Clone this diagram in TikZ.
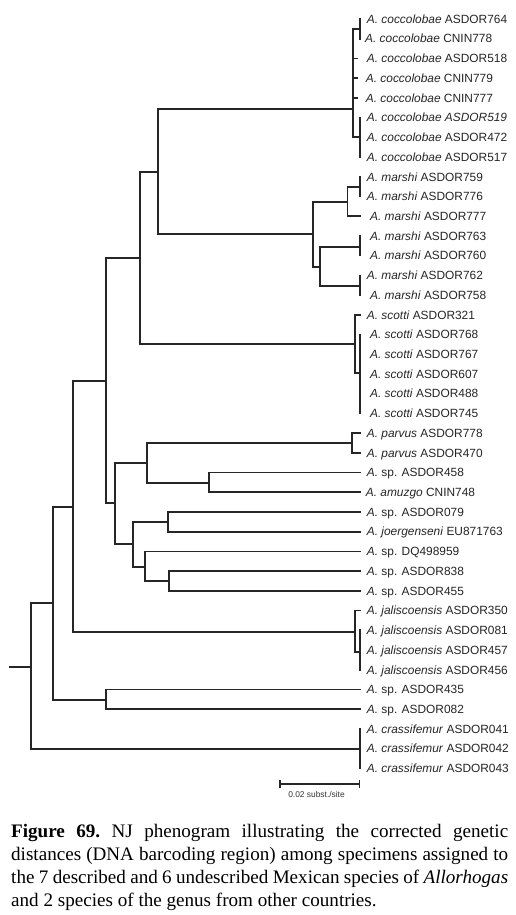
\documentclass[tikz,border=0pt]{standalone}
\usepackage{fontspec}
\setmainfont{Liberation Serif}
\newfontfamily\labfam{Liberation Sans}
\newcommand\labfont{\labfam\fontsize{11.9bp}{14bp}\selectfont}
\newcommand\capfont{\fontsize{19.1bp}{22.8bp}\selectfont\frenchspacing}
\begin{document}
\begin{tikzpicture}[x=1bp,y=-1bp,
  br/.style={draw=black!85,line width=1.7bp,line cap=rect},
  lab/.style={font=\labfont,anchor=base west,inner sep=0pt,text=black!85},
  capline/.style={font=\capfont,anchor=base west,inner sep=0pt,text=black}]
\useasboundingbox (0,0) rectangle (516,915);
\fill[white] (0,0) rectangle (516,915);
% tips
\foreach \i in {0,...,38} \coordinate (t\i) at (360,{19+19.72*\i});
\foreach \i in {2,3,4} \coordinate (t\i) at (357,{19+19.72*\i});
% internal nodes
\coordinate (root0) at (10,666.7);
\coordinate (nA) at (31,666.7);
\coordinate (nB) at (53,602.7);
\coordinate (nCr) at (360,749);
\coordinate (nC) at (72.7,506.7);
\coordinate (n435) at (106,700);
\coordinate (nD) at (106,381);
\coordinate (nJal) at (355,631.7);
\coordinate (nJalb) at (360,651.7);
\coordinate (nE) at (140,258.3);
\coordinate (nF) at (115,503.3);
\coordinate (nG) at (157.7,171.7);
\coordinate (nSc) at (355,344.3);
\coordinate (nScb) at (360,373.3);
\coordinate (nCo) at (353.3,109);
\coordinate (nCoa) at (360,29);
\coordinate (nCob) at (360,137);
\coordinate (nMa) at (313.3,234);
\coordinate (nMa1) at (347.5,202.3);
\coordinate (nMa1a) at (360,186.7);
\coordinate (nMa2) at (320,266.7);
\coordinate (nMa2a) at (360,246.7);
\coordinate (nMa2b) at (360,286);
\coordinate (nH) at (147.3,463.3);
\coordinate (nI) at (133.3,544.3);
\coordinate (nPa) at (352.3,443.3);
\coordinate (n458) at (209,483.3);
\coordinate (n079) at (168.3,522);
\coordinate (nJ) at (145,567.3);
\coordinate (n838) at (169.3,580.7);
% branches
\draw[br] (root0) -- (nA);
\foreach \p/\c in {nA/nB,nA/nCr,nB/nC,nB/n435,nC/nD,nC/nJal,nD/nE,nD/nF,
  nE/nG,nE/nSc,nG/nCo,nG/nMa,
  nCo/nCoa,nCo/t2,nCo/t3,nCo/t4,nCo/nCob,nCoa/t0,nCoa/t1,nCob/t5,nCob/t6,nCob/t7,
  nMa/nMa1,nMa/nMa2,nMa1/nMa1a,nMa1/t10,nMa1a/t8,nMa1a/t9,
  nMa2/nMa2a,nMa2/nMa2b,nMa2a/t11,nMa2a/t12,nMa2b/t13,nMa2b/t14,
  nSc/t15,nSc/nScb,nScb/t16,nScb/t17,nScb/t18,nScb/t19,nScb/t20,
  nF/nH,nF/nI,nH/nPa,nH/n458,nPa/t21,nPa/t22,n458/t23,n458/t24,
  nI/n079,nI/nJ,n079/t25,n079/t26,nJ/t27,nJ/n838,n838/t28,n838/t29,
  nJal/t30,nJal/nJalb,nJalb/t31,nJalb/t32,nJalb/t33,
  n435/t34,n435/t35,nCr/t36,nCr/t37,nCr/t38}
  \draw[br] (\p) |- (\c);
% labels
\foreach \i/\lx/\txt in {
  0/366.7/{\textit{A. coccolobae} ASDOR764},
  1/365/{\textit{A. coccolobae} CNIN778},
  2/366.7/{\textit{A. coccolobae} ASDOR518},
  3/365.7/{\textit{A. coccolobae} CNIN779},
  4/365.7/{\textit{A. coccolobae} CNIN777},
  5/366.7/{\textit{A. coccolobae ASDOR519}},
  6/366.7/{\textit{A. coccolobae} ASDOR472},
  7/366.7/{\textit{A. coccolobae} ASDOR517},
  8/366.7/{\textit{A. marshi} ASDOR759},
  9/366.7/{\textit{A. marshi} ASDOR776},
  10/370/{\textit{A. marshi} ASDOR777},
  11/370/{\textit{A. marshi} ASDOR763},
  12/370/{\textit{A. marshi} ASDOR760},
  13/366.7/{\textit{A. marshi} ASDOR762},
  14/370/{\textit{A. marshi} ASDOR758},
  15/366.7/{\textit{A. scotti} ASDOR321},
  16/370/{\textit{A. scotti} ASDOR768},
  17/370/{\textit{A. scotti} ASDOR767},
  18/370/{\textit{A. scotti} ASDOR607},
  19/370/{\textit{A. scotti} ASDOR488},
  20/370/{\textit{A. scotti} ASDOR745},
  21/366.7/{\textit{A. parvus} ASDOR778},
  22/366.7/{\textit{A. parvus} ASDOR470},
  23/366.7/{\textit{A.} sp. ASDOR458},
  24/365.7/{\textit{A. amuzgo} CNIN748},
  25/366.7/{\textit{A.} sp. ASDOR079},
  26/366.7/{\textit{A. joergenseni} EU871763},
  27/366.7/{\textit{A.} sp. DQ498959},
  28/366.7/{\textit{A.} sp. ASDOR838},
  29/366.7/{\textit{A.} sp. ASDOR455},
  30/366.7/{\textit{A. jaliscoensis} ASDOR350},
  31/366.7/{\textit{A. jaliscoensis} ASDOR081},
  32/366.7/{\textit{A. jaliscoensis} ASDOR457},
  33/366.7/{\textit{A. jaliscoensis} ASDOR456},
  34/366.7/{\textit{A.} sp. ASDOR435},
  35/366.7/{\textit{A.} sp. ASDOR082},
  36/366.7/{\textit{A. crassifemur} ASDOR041},
  37/366.7/{\textit{A. crassifemur} ASDOR042},
  38/366.7/{\textit{A. crassifemur} ASDOR043}}
  \node[lab] (L\i) at (\lx,{19+19.72*\i+4.25}) {\txt};
% scale bar
\coordinate (sbA) at (280,784);
\coordinate (sbB) at (359.3,784);
\draw[br,line width=1.4bp] (sbA) -- (sbB);
\draw[br,line width=1.4bp] (sbA) ++(0,-3.6) -- ++(0,7.2);
\draw[br,line width=1.4bp] (sbB) ++(0,-3.6) -- ++(0,7.2);
\node[font=\labfam\fontsize{8.4bp}{10bp}\selectfont,inner sep=0pt,text=black!80] (sbL) at (316.5,794.5) {0.02 subst./site};
% caption
\node[capline] (cap1) at (11,837.7) {\makebox[497bp][s]{\textbf{Figure 69.} NJ phenogram illustrating the corrected genetic}};
\node[capline] (cap2) at (11,860.5) {\makebox[497bp][s]{distances (DNA barcoding region) among specimens assigned to}};
\node[capline] (cap3) at (11,883.3) {\makebox[497bp][s]{the 7 described and 6 undescribed Mexican species of \textit{Allorhogas}}};
\node[capline] (cap4) at (11,906) {and 2 species of the genus from other countries.};
\end{tikzpicture}
\end{document}
